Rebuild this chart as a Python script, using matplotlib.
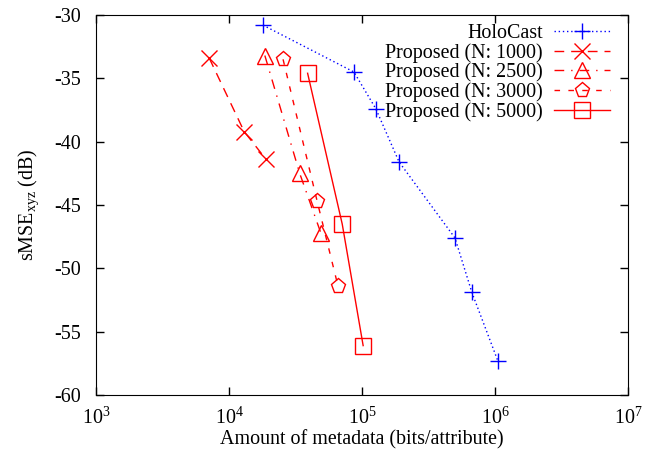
import numpy as np
import matplotlib
matplotlib.use('Agg')
import matplotlib.pyplot as plt
from matplotlib.ticker import NullLocator, LogLocator

plt.rcParams['font.family'] = 'Liberation Serif'
plt.rcParams['mathtext.fontset'] = 'custom'
plt.rcParams['mathtext.rm'] = 'Liberation Serif'
plt.rcParams['mathtext.it'] = 'Liberation Serif:italic'
plt.rcParams['axes.unicode_minus'] = False
plt.rcParams['font.size'] = 14.4

# HoloCast
holo_x = [1.8e4, 8.7e4, 1.27e5, 1.9e5, 5.0e5, 6.7e5, 1.05e6]
holo_y = [-30.8, -34.5, -37.4, -41.6, -47.6, -51.9, -57.3]
# Proposed, N: 1000
p1000_x = [7.1e3, 1.3e4, 1.9e4]
p1000_y = [-33.4, -39.2, -41.4]
# Proposed, N: 2500
p2500_x = [1.86e4, 3.4e4, 4.9e4]
p2500_y = [-33.2, -42.5, -47.2]
# Proposed, N: 3000
p3000_x = [2.55e4, 4.6e4, 6.6e4]
p3000_y = [-33.5, -44.7, -51.4]
# Proposed, N: 5000
p5000_x = [3.9e4, 7.1e4, 1.02e5]
p5000_y = [-34.6, -46.5, -56.1]

fig = plt.figure(figsize=(6.67, 4.62), dpi=100)
ax = fig.add_axes([96/667, 1-395/462, (628-96)/667, (395-15)/462])

blue = '#0000ff'
red = '#ff0000'
ax.plot(holo_x, holo_y, color=blue, ls=(0, (1, 2)), lw=1, marker='+', ms=12, mew=1,
        label='HoloCast')
ax.plot(p1000_x, p1000_y, color=red, ls=(0, (7, 5)), lw=1, marker='x', ms=11, mew=1,
        mfc='none', label='Proposed (N: 1000)')
ax.plot(p2500_x, p2500_y, color=red, ls=(0, (7, 5, 1, 5)), lw=1, marker='^', ms=11, mew=1,
        mfc='none', label='Proposed (N: 2500)')
ax.plot(p3000_x, p3000_y, color=red, ls=(0, (4, 6)), lw=1, marker='p', ms=11, mew=1,
        mfc='none', label='Proposed (N: 3000)')
ax.plot(p5000_x, p5000_y, color=red, ls='-', lw=1, marker='s', ms=12, mew=1,
        mfc='none', label='Proposed (N: 5000)')

ax.set_xscale('log')
ax.set_xlim(1e3, 1e7)
ax.set_ylim(-60, -30)
ax.set_yticks(np.arange(-60, -29, 5))
ax.xaxis.set_major_locator(LogLocator(base=10, numticks=10))
ax.xaxis.set_minor_locator(NullLocator())
ax.tick_params(direction='in', top=True, right=True, length=6, width=1)
ax.tick_params(axis='x', pad=9)
ax.tick_params(axis='y', pad=11)

ax.set_xlabel('Amount of metadata (bits/attribute)', labelpad=1)
ax.set_ylabel('sMSE$_{\\mathrm{xyz}}$ (dB)')
ax.yaxis.set_label_coords(-0.104, 0.5)

ax.legend(loc='upper right', bbox_to_anchor=(1, 1 + 9/380), frameon=False,
          markerfirst=False, labelspacing=0.0, handlelength=2.8,
          handletextpad=0.55, borderaxespad=0.5)

fig.savefig('out.png', dpi=100)
